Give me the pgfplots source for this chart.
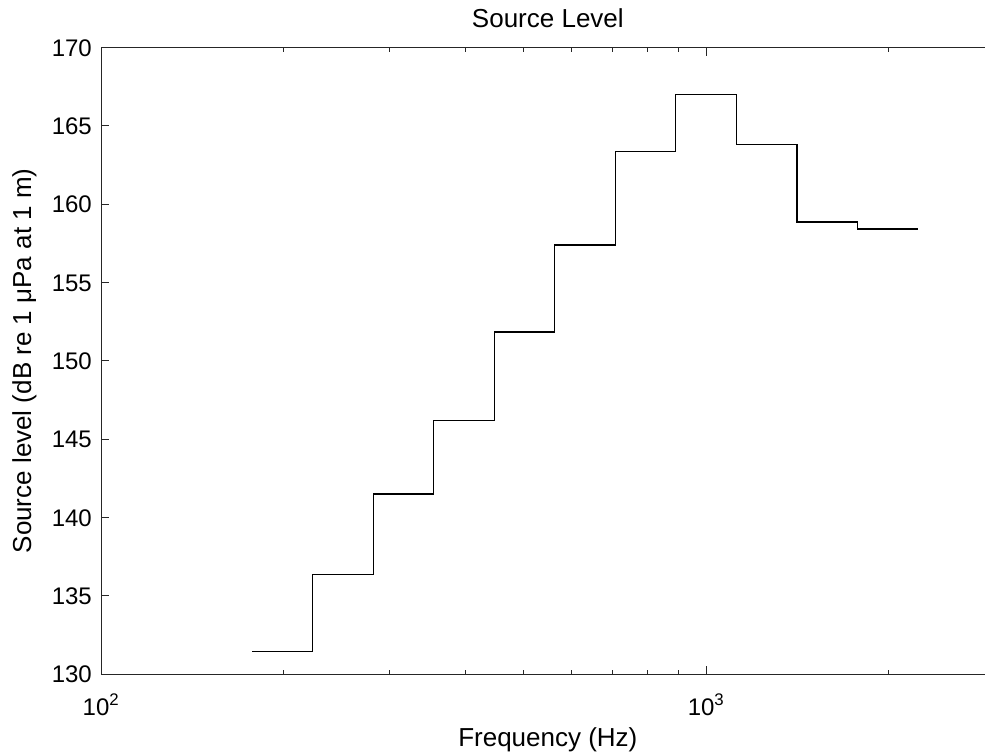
\documentclass[border=0pt]{standalone}
\usepackage{fontspec}
\setmainfont{Liberation Sans}
\usepackage{pgfplots}
\pgfplotsset{compat=1.18}
\begin{document}
\begin{tikzpicture}
\useasboundingbox (0pt,0pt) rectangle (985pt,755pt);
\clip (0pt,0pt) rectangle (985pt,755pt);
\begin{axis}[
  at={(101pt,81pt)}, anchor=south west,
  scale only axis,
  width=893.7pt, height=626.3pt,
  xmode=log, xmin=100, xmax=3000,
  ymin=130, ymax=170,
  xtick={100,1000}, xticklabels={10\textsuperscript{2},10\textsuperscript{3}},
  minor xtick={200,300,400,500,600,700,800,900,2000,3000},
  ytick={130,135,...,170},
  /pgf/number format/assume math mode=true,
  tick align=inside,
  major tick length=8pt, minor tick length=4pt,
  axis line style={line width=1pt, black!85},
  every tick/.style={line width=1pt, black!85},
  tick label style={font=\fontsize{24}{28}\selectfont, inner sep=0pt},
  xticklabel style={anchor=base, yshift=-41pt},
  yticklabel style={anchor=base east, xshift=-9pt, yshift=-8.6pt},
  title={Source Level},
  title style={font=\fontsize{26}{30}\selectfont, at={(0.5,1)}, anchor=base, yshift=14pt, inner sep=0pt},
  xlabel={Frequency (Hz)},
  xlabel style={font=\fontsize{26}{30}\selectfont, at={(0.5,0)}, anchor=base, yshift=-72pt, inner sep=0pt},
  ylabel={Source level (dB re 1 μPa at 1 m)},
  ylabel style={font=\fontsize{26}{30}\selectfont, at={(0,0.5)}, anchor=base, yshift=70pt, inner sep=0pt},
  clip=false,
]
\addplot[const plot, black, line width=1.3pt] coordinates {
  (177.8,131.43) (223.9,136.37) (281.8,141.50) (354.8,146.18)
  (446.7,151.85) (562.3,157.40) (707.9,163.36) (891.3,167.02)
  (1122,163.80) (1413,158.87) (1778,158.42) (2239,158.42)
};
\end{axis}
\end{tikzpicture}
\end{document}
